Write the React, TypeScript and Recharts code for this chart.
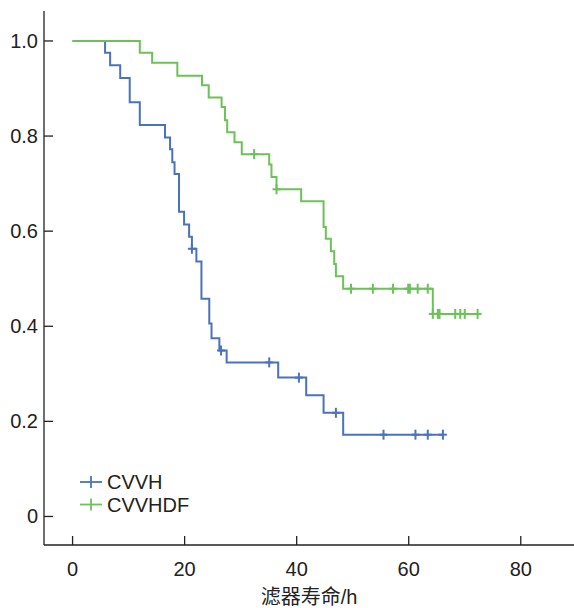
import React from 'react';
import { LineChart, Line, XAxis, YAxis } from 'recharts';

// Kaplan-Meier estimates (time in h, survival fraction)
const cvvhEventT = [0, 5.8, 6.7, 8.5, 10.2, 12.0, 16.5, 17.4, 17.8, 18.2, 19.0, 19.9, 20.8, 21.3, 22.1, 23.0, 24.4, 24.8, 26.2, 27.5, 36.7, 41.7, 44.8, 48.3];
const cvvhEventS = [1.0, 0.975, 0.949, 0.922, 0.871, 0.823, 0.797, 0.772, 0.745, 0.72, 0.641, 0.614, 0.588, 0.563, 0.536, 0.458, 0.406, 0.375, 0.349, 0.324, 0.292, 0.255, 0.218, 0.172];
const cvvhCensorT = [21.3, 26.5, 35.1, 40.4, 47.0, 55.5, 61.2, 63.4, 66.1];

const hdfEventT = [0, 12.0, 14.2, 18.7, 23.1, 24.3, 26.6, 27.2, 27.6, 28.9, 30.2, 35.1, 35.5, 36.4, 40.8, 44.8, 45.2, 46.1, 46.7, 47.0, 48.3, 64.3];
const hdfEventS = [1.0, 0.975, 0.954, 0.927, 0.907, 0.881, 0.861, 0.833, 0.808, 0.787, 0.762, 0.74, 0.714, 0.688, 0.663, 0.609, 0.584, 0.558, 0.531, 0.505, 0.479, 0.426];
const hdfCensorT = [32.4, 36.4, 49.7, 53.6, 57.2, 59.9, 60.2, 61.6, 63.4, 64.3, 65.2, 65.5, 68.3, 69.2, 70.0, 72.3];

const xTicks = [0, 20, 40, 60, 80];
const yTicks = [0, 0.2, 0.4, 0.6, 0.8, 1.0];

const BLUE = '#4a72c0';
const GREEN = '#6cc256';
const FONT = '"Liberation Sans", Arial, "Noto Sans CJK SC", sans-serif';
const FS = 20;

type Pt = { t: number; s: number; c: boolean };

// merge events and censor times into one step series
function buildSeries(evT: number[], evS: number[], cenT: number[]): Pt[] {
  const pts: Pt[] = evT.map((t, i) => ({ t, s: evS[i], c: false }));
  cenT.forEach((t) => {
    let s = evS[0];
    evT.forEach((et, i) => {
      if (et <= t) s = evS[i];
    });
    pts.push({ t, s, c: true });
  });
  return pts.sort((a, b) => a.t - b.t || (a.c ? 1 : 0) - (b.c ? 1 : 0));
}

const cvvhData = buildSeries(cvvhEventT, cvvhEventS, cvvhCensorT);
const hdfData = buildSeries(hdfEventT, hdfEventS, hdfCensorT);

const censorDot = (color: string) => (props: any) => {
  const { cx, cy, payload, index } = props;
  if (!payload || !payload.c) return <g key={`e-${index}`} />;
  return (
    <g key={`c-${index}`}>
      <line x1={cx - 4} x2={cx + 4} y1={cy} y2={cy} stroke={color} strokeWidth={2} />
      <line x1={cx} x2={cx} y1={cy - 5} y2={cy + 5} stroke={color} strokeWidth={2} />
    </g>
  );
};

const XTick = (props: any) => {
  const { x, y, payload } = props;
  return (
    <g>
      <line x1={x} x2={x} y1={y} y2={y - 9} stroke="#222" strokeWidth={1.3} />
      <text x={x} y={y + 31} textAnchor="middle" fontSize={FS} fill="#222" fontFamily={FONT}>
        {payload.value}
      </text>
    </g>
  );
};

const YTick = (props: any) => {
  const { x, y, payload } = props;
  const v = payload.value;
  return (
    <g>
      <line x1={x} x2={x + 9} y1={y} y2={y} stroke="#222" strokeWidth={1.3} />
      <text x={x - 6} y={y + 7} textAnchor="end" fontSize={FS} fill="#222" fontFamily={FONT}>
        {v === 0 ? '0' : v.toFixed(1)}
      </text>
    </g>
  );
};

const legendItems = [
  { name: 'CVVH', color: BLUE, y: 482 },
  { name: 'CVVHDF', color: GREEN, y: 504.5 },
];

export default function App() {
  return (
    <div style={{ position: 'absolute', left: 0, top: 0, width: 574, height: 608, background: '#fff' }}>
      <LineChart width={574} height={608} margin={{ top: 11, right: 0, bottom: 0, left: 0 }}>
        <XAxis
          dataKey="t"
          type="number"
          domain={[-5.1, 89.5]}
          ticks={xTicks}
          allowDataOverflow
          height={63}
          tickSize={0}
          tickMargin={0}
          tick={<XTick />}
          axisLine={{ stroke: '#222', strokeWidth: 1.3 }}
          label={{ value: '滤器寿命/h', position: 'insideBottom', offset: 4, fontSize: FS, fill: '#222', fontFamily: FONT }}
        />
        <YAxis
          type="number"
          domain={[-0.06, 1.063]}
          ticks={yTicks}
          allowDataOverflow
          width={44}
          tickSize={0}
          tickMargin={0}
          tick={<YTick />}
          axisLine={{ stroke: '#222', strokeWidth: 1.3 }}
        />
        <Line
          data={cvvhData}
          dataKey="s"
          type="stepAfter"
          stroke={BLUE}
          strokeWidth={2}
          dot={censorDot(BLUE)}
          activeDot={false}
          isAnimationActive={false}
        />
        <Line
          data={hdfData}
          dataKey="s"
          type="stepAfter"
          stroke={GREEN}
          strokeWidth={2}
          dot={censorDot(GREEN)}
          activeDot={false}
          isAnimationActive={false}
        />
      </LineChart>
      <svg width={574} height={608} style={{ position: 'absolute', left: 0, top: 0, pointerEvents: 'none' }}>
        {legendItems.map((it) => (
          <g key={it.name}>
            <line x1={80} x2={102} y1={it.y} y2={it.y} stroke={it.color} strokeWidth={1.8} />
            <line x1={91} x2={91} y1={it.y - 6} y2={it.y + 6} stroke={it.color} strokeWidth={1.8} />
            <text x={107} y={it.y + 7} fontSize={FS} fill="#222" fontFamily={FONT}>
              {it.name}
            </text>
          </g>
        ))}
      </svg>
    </div>
  );
}
